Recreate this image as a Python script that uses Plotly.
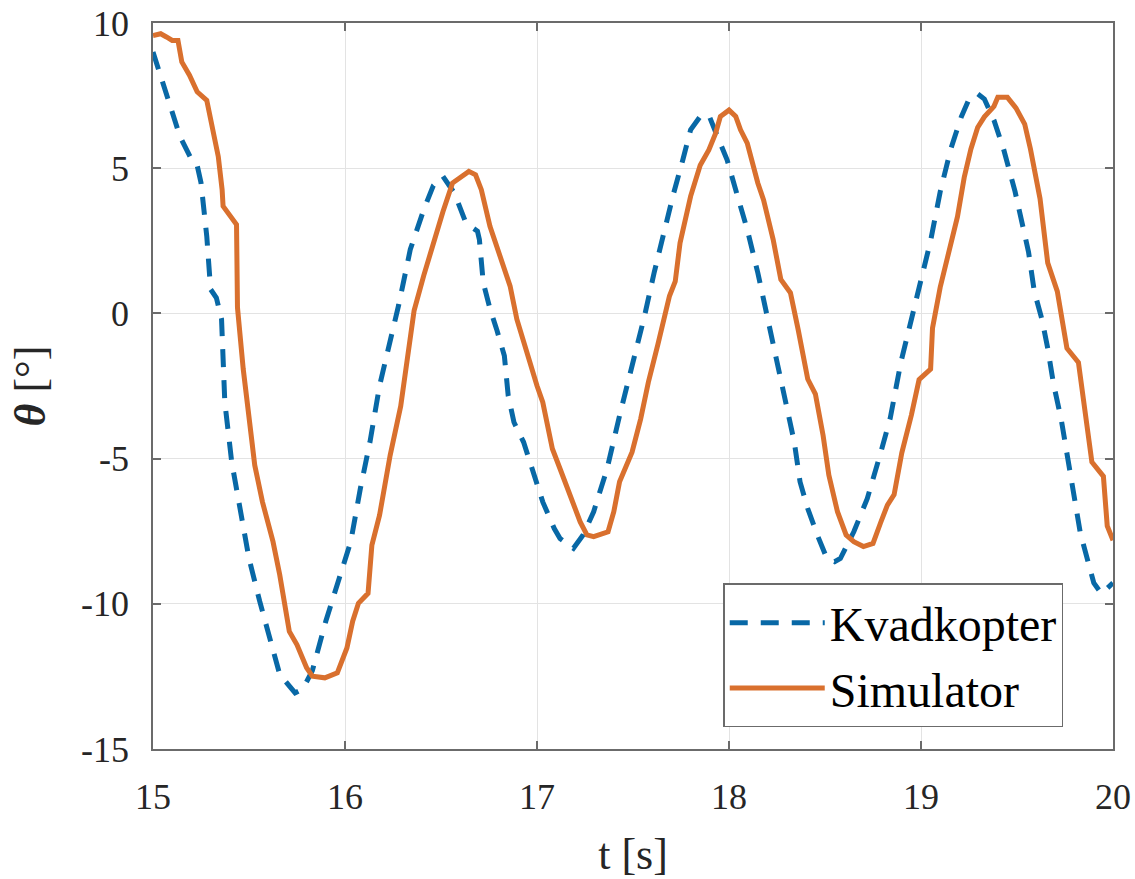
import plotly.graph_objects as go

# Kvadkopter (measured) pitch angle
t_kvad = [15.00, 15.087, 15.14, 15.21, 15.23, 15.25, 15.28, 15.30, 15.33, 15.357,
          15.374, 15.41, 15.45, 15.50, 15.556, 15.61, 15.66, 15.74, 15.78, 15.83,
          15.90, 15.97, 16.03, 16.08, 16.13, 16.18, 16.235, 16.28, 16.34, 16.41,
          16.46, 16.51, 16.57, 16.63, 16.69, 16.70, 16.72, 16.756, 16.79, 16.83,
          16.85, 16.88, 16.93, 16.98, 17.03, 17.09, 17.12, 17.19, 17.24, 17.295,
          17.365, 17.43, 17.50, 17.56, 17.61, 17.66, 17.71, 17.76, 17.80, 17.85,
          17.895, 17.94, 17.99, 18.04, 18.095, 18.15, 18.20, 18.25, 18.30, 18.34,
          18.37, 18.41, 18.46, 18.51, 18.55, 18.58, 18.65, 18.72, 18.79, 18.84,
          18.895, 18.95, 19.00, 19.05, 19.10, 19.155, 19.21, 19.25, 19.295, 19.33,
          19.38, 19.43, 19.49, 19.52, 19.56, 19.59, 19.63, 19.66, 19.69, 19.73,
          19.76, 19.80, 19.83, 19.87, 19.90, 19.94, 20.00]
theta_kvad = [9.0, 7.23, 6.1, 5.17, 5.1, 4.5, 2.66, 0.83, 0.54, -0.2,
              -3.06, -5.12, -6.7, -8.44, -9.92, -11.3, -12.43, -13.07, -12.94, -12.3,
              -10.6, -9.12, -7.86, -6.03, -4.43, -2.49, -1.0, 0.3, 2.2, 3.57,
              4.4, 4.72, 4.14, 3.11, 2.83, 2.54, 1.06, 0.14, -0.55, -1.46,
              -2.83, -3.75, -4.43, -5.46, -6.49, -7.41, -7.75, -8.09, -7.63, -6.83,
              -5.35, -3.52, -1.69, -0.09, 1.4, 2.8, 4.1, 5.3, 6.32, 6.78,
              6.83, 6.09, 5.29, 4.14, 2.89, 1.40, -0.09, -1.69, -3.06, -4.43,
              -5.8, -6.72, -7.63, -8.44, -8.55, -8.44, -7.52, -6.38, -4.8, -3.6,
              -1.69, -0.21, 1.01, 2.5, 4.19, 5.66, 6.77, 7.38, 7.56, 7.38,
              6.65, 5.66, 4.19, 3.22, 2.12, 0.76, -0.21, -1.2, -2.42, -3.64,
              -4.87, -6.34, -7.57, -8.55, -9.28, -9.65, -9.28]

# Simulator pitch angle
t_sim = [15.00, 15.04, 15.07, 15.10, 15.13, 15.15, 15.19, 15.23, 15.28, 15.31,
         15.34, 15.36, 15.365, 15.435, 15.437, 15.44, 15.47, 15.50, 15.53, 15.57,
         15.625, 15.66, 15.70, 15.71, 15.75, 15.80, 15.83, 15.895, 15.96, 16.01,
         16.04, 16.07, 16.12, 16.14, 16.18, 16.235, 16.29, 16.32, 16.36, 16.41,
         16.46, 16.51, 16.56, 16.60, 16.645, 16.68, 16.71, 16.755, 16.81, 16.86,
         16.895, 16.95, 17.00, 17.03, 17.08, 17.12, 17.17, 17.225, 17.26, 17.295,
         17.37, 17.40, 17.43, 17.495, 17.54, 17.58, 17.63, 17.66, 17.69, 17.72,
         17.745, 17.80, 17.85, 17.895, 17.93, 17.955, 18.00, 18.035, 18.06, 18.095,
         18.13, 18.15, 18.18, 18.23, 18.27, 18.32, 18.36, 18.41, 18.45, 18.49,
         18.52, 18.565, 18.61, 18.65, 18.70, 18.75, 18.79, 18.825, 18.86, 18.90,
         18.95, 18.99, 19.05, 19.06, 19.10, 19.15, 19.19, 19.225, 19.26, 19.295,
         19.33, 19.38, 19.40, 19.45, 19.495, 19.54, 19.57, 19.62, 19.66, 19.71,
         19.76, 19.82, 19.85, 19.89, 19.95, 19.97, 20.00]
theta_sim = [9.57, 9.63, 9.52, 9.40, 9.40, 8.66, 8.2, 7.63, 7.34, 6.32,
             5.4, 4.26, 3.69, 3.06, 1.74, 0.2, -1.92, -3.63, -5.23, -6.49,
             -7.86, -9.0, -10.6, -10.95, -11.41, -12.2, -12.49, -12.55, -12.38, -11.52,
             -10.6, -9.98, -9.64, -7.98, -6.95, -4.89, -3.2, -1.8, 0.1, 1.3,
             2.43, 3.5, 4.49, 4.66, 4.89, 4.77, 4.26, 3.0, 1.97, 0.94,
             -0.2, -1.46, -2.49, -3.06, -4.66, -5.35, -6.26, -7.18, -7.63, -7.69,
             -7.52, -6.83, -5.8, -4.78, -3.63, -2.37, -1.06, -0.15, 0.6, 1.1,
             2.43, 4.03, 5.1, 5.63, 6.2, 6.78, 7.0, 6.78, 6.32, 5.86,
             4.94, 4.49, 3.91, 2.54, 1.17, 0.71, -0.55, -2.26, -2.78, -4.2,
             -5.57, -6.83, -7.63, -7.86, -8.03, -7.92, -7.2, -6.6, -6.24, -4.8,
             -3.5, -2.28, -1.92, -0.5, 0.9, 2.3, 3.33, 4.68, 5.66, 6.4,
             6.77, 7.13, 7.44, 7.44, 7.07, 6.52, 5.66, 3.95, 1.74, 0.76,
             -1.2, -1.69, -3.16, -5.12, -5.61, -7.32, -7.81]

x_ticks = [15, 16, 17, 18, 19, 20]
x_tick_labels = ["15", "16", "17", "18", "19", "20"]
y_ticks = [-15, -10, -5, 0, 5, 10]
y_tick_labels = ["-15", "-10", "-5", "0", "5", "10"]

BLUE = "#0868A6"
ORANGE = "#D9702E"
AXIS = "#6b6b6b"
GRID = "#e3e3e3"
TEXT = "#262626"
SERIF = "Liberation Serif"

fig = go.Figure()
fig.add_trace(go.Scatter(
    x=t_kvad, y=theta_kvad, mode="lines", name="Kvadkopter",
    line=dict(color=BLUE, width=5, dash="18px,13px"),
))
fig.add_trace(go.Scatter(
    x=t_sim, y=theta_sim, mode="lines", name="Simulator",
    line=dict(color=ORANGE, width=5),
))

axis_common = dict(
    showline=True, linecolor=AXIS, linewidth=1.5, mirror="ticks",
    ticks="inside", ticklen=8, tickwidth=1.5, tickcolor=AXIS,
    showgrid=True, gridcolor=GRID, gridwidth=1, zeroline=False,
    tickfont=dict(family=SERIF, size=36, color=TEXT),
    ticklabeloverflow="allow", automargin=False,
)

fig.update_xaxes(
    range=[15, 20], tickvals=x_ticks, ticktext=x_tick_labels,
    title=dict(text="t [s]", font=dict(family=SERIF, size=44, color=TEXT), standoff=22),
    ticklabelstandoff=15,
    **axis_common,
)
fig.update_yaxes(
    range=[-15, 10], tickvals=y_ticks, ticktext=y_tick_labels,
    title=dict(text="<b><i>θ</i></b> [°]", font=dict(family=SERIF, size=44, color=TEXT), standoff=22),
    ticklabelstandoff=15,
    **axis_common,
)

fig.update_layout(
    width=1135, height=879,
    margin=dict(l=153, r=22, t=23, b=130, autoexpand=False),
    paper_bgcolor="white", plot_bgcolor="white",
    showlegend=True,
    legend=dict(
        x=0.594, y=0.228, xanchor="left", yanchor="top",
        bgcolor="white", bordercolor=AXIS, borderwidth=1.5,
        font=dict(family=SERIF, size=48, color="black"),
        itemwidth=95, tracegroupgap=0,
    ),
)

fig.write_html("out.html")
